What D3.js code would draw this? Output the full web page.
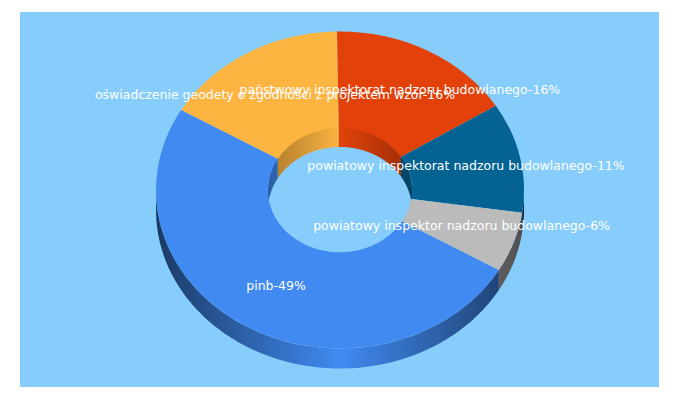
<!DOCTYPE html>
<html>
<head>
<meta charset="utf-8">
<script src="https://d3js.org/d3.v7.min.js"></script>
<style>
  body { margin: 0; background: #fff; }
  text { font-family: "DejaVu Sans", sans-serif; font-size: 12.5px; fill: #fff; }
</style>
</head>
<body>
<svg id="canvas"></svg>
<script>
const names = [
  "pinb",
  "oświadczenie geodety o zgodności z projektem wzór",
  "państwowy inspektorat nadzoru budowlanego",
  "powiatowy inspektorat nadzoru budowlanego",
  "powiatowy inspektor nadzoru budowlanego",
];
const shares = [49, 16, 16, 11, 6];
const colors = ["#408af1", "#fdb441", "#e2420a", "#056394", "#bbbbbb"];

const WIDTH = 680;
const HEIGHT = 400;
const CX = 340;
const CY = 190;
const RX = 184;
const RY = 158.5;
const INNER_RX = 72;
const INNER_RY = 63;
const DEPTH = 20;
const START = (120.3 * Math.PI) / 180;

// small label corrections, same order as names
const nudgeX = [1, 0, -1.5, 0, 0];
const nudgeY = [1, 2, -1, 0, 0];

const canvas = d3.select("#canvas").attr("width", WIDTH).attr("height", HEIGHT);

canvas
  .append("rect")
  .attr("x", 20)
  .attr("y", 12)
  .attr("width", 639)
  .attr("height", 375)
  .attr("fill", "#87cdfb");

const pie = d3
  .pie()
  .sort(null)
  .startAngle(START)
  .endAngle(START + 2 * Math.PI);
const slices = pie(shares);

const shade = (color, k) => {
  const c = d3.rgb(color);
  return d3.rgb(c.r * k, c.g * k, c.b * k).formatHex();
};

// side walls are lit in the middle and go dark towards the edges
const defs = canvas.append("defs");
const addGradient = (id, color, x1, x2, k) => {
  const grad = defs
    .append("linearGradient")
    .attr("id", id)
    .attr("gradientUnits", "userSpaceOnUse")
    .attr("x1", x1)
    .attr("x2", x2)
    .attr("y1", 0)
    .attr("y2", 0);
  grad.append("stop").attr("offset", 0).attr("stop-color", shade(color, k));
  grad.append("stop").attr("offset", 0.5).attr("stop-color", color);
  grad.append("stop").attr("offset", 1).attr("stop-color", shade(color, k));
};
colors.forEach((c, i) => {
  addGradient("outer" + i, c, CX - RX, CX + RX, 0.42);
  addGradient("inner" + i, c, CX - INNER_RX, CX + INNER_RX, 0.68);
});

const line = d3.line();

// band between an arc of the ellipse and the same arc moved down by DEPTH
const wallPath = (a0, a1, rx, ry) => {
  const steps = Math.max(2, Math.ceil((a1 - a0) / 0.02));
  const angles = d3.range(steps + 1).map((i) => a0 + ((a1 - a0) * i) / steps);
  const top = angles.map((a) => [CX + rx * Math.sin(a), CY - ry * Math.cos(a)]);
  const bottom = top.map((p) => [p[0], p[1] + DEPTH]).reverse();
  return line(top.concat(bottom)) + "Z";
};

// clip an angle range to a visible span, also trying it one turn later
const visibleParts = (d, from, to) => {
  const parts = [];
  [0, 2 * Math.PI].forEach((turn) => {
    const a0 = Math.max(d.startAngle, from + turn);
    const a1 = Math.min(d.endAngle, to + turn);
    if (a1 > a0) parts.push([a0, a1]);
  });
  return parts;
};

// front half of the outer wall
slices.forEach((d, i) => {
  visibleParts(d, Math.PI / 2, (3 * Math.PI) / 2).forEach((p) => {
    canvas
      .append("path")
      .attr("d", wallPath(p[0], p[1], RX, RY))
      .attr("fill", "url(#outer" + i + ")");
  });
});

// back half of the hole wall
slices.forEach((d, i) => {
  visibleParts(d, -Math.PI / 2, Math.PI / 2).forEach((p) => {
    canvas
      .append("path")
      .attr("d", wallPath(p[0], p[1], INNER_RX, INNER_RY))
      .attr("fill", "url(#inner" + i + ")");
  });
});

// top face
const squash = RY / RX;
const arc = d3.arc().innerRadius(INNER_RX).outerRadius(RX);
canvas
  .append("g")
  .attr("transform", "translate(" + CX + "," + CY + ") scale(1," + squash + ")")
  .selectAll("path")
  .data(slices)
  .enter()
  .append("path")
  .attr("d", arc)
  .attr("fill", (d, i) => colors[i]);

// labels
const labelArc = d3.arc().innerRadius(RX * 0.7).outerRadius(RX * 0.7);
canvas
  .append("g")
  .selectAll("text")
  .data(slices)
  .enter()
  .append("text")
  .attr("text-anchor", "middle")
  .attr("x", (d, i) => CX + labelArc.centroid(d)[0] + nudgeX[i])
  .attr("y", (d, i) => CY + labelArc.centroid(d)[1] * squash + 3 + nudgeY[i])
  .text((d, i) => names[i] + "-" + shares[i] + "%");
</script>
</body>
</html>
